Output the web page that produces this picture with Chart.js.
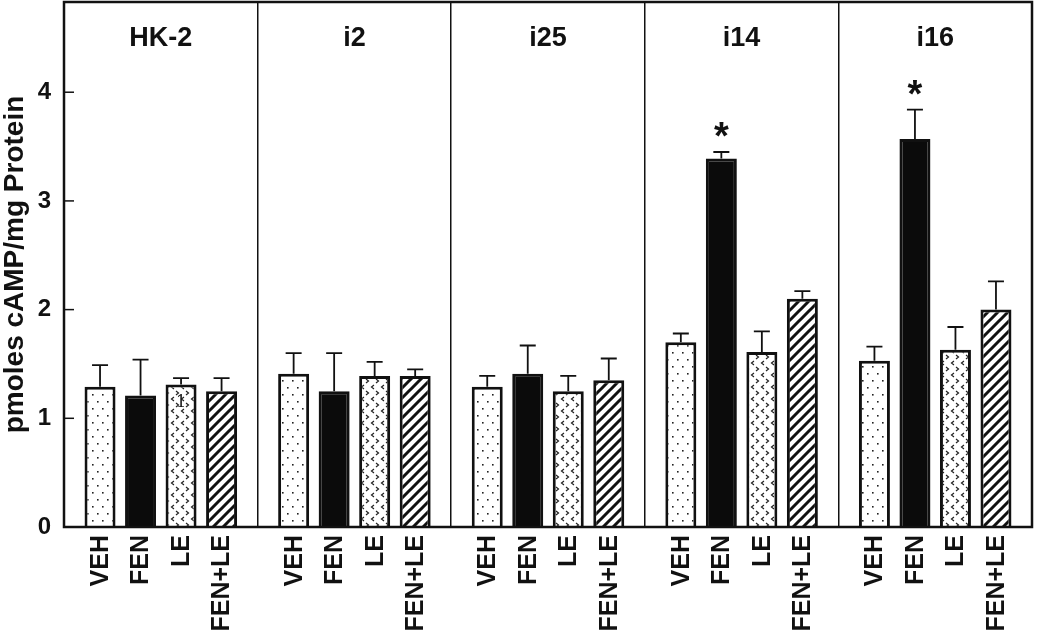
<!DOCTYPE html>
<html>
<head>
<meta charset="utf-8">
<script src="https://cdn.jsdelivr.net/npm/chart.js@4.4.0/dist/chart.umd.min.js"></script>
<style>
    body { margin: 0; background: #fff; }
    #chart { display: block; }
</style>
</head>
<body>
<canvas id="chart" width="1050" height="631"></canvas>
<script>
//-------------
//- DATA
//-------------
var cellLines = ["HK-2", "i2", "i25", "i14", "i16"];
var treatments = ["VEH", "FEN", "LE", "FEN+LE"];

var vehMean = [1.29, 1.41, 1.29, 1.70, 1.53];
var vehErr = [0.20, 0.19, 0.10, 0.08, 0.13];
var fenMean = [1.21, 1.25, 1.41, 3.39, 3.57];
var fenErr = [0.33, 0.35, 0.26, 0.06, 0.27];
var leMean = [1.31, 1.39, 1.25, 1.61, 1.63];
var leErr = [0.06, 0.13, 0.14, 0.19, 0.21];
var fenLeMean = [1.25, 1.39, 1.35, 2.10, 2.00];
var fenLeErr = [0.12, 0.06, 0.20, 0.07, 0.26];

// FEN significantly different from VEH
var fenStar = [false, false, false, true, true];

var yTicks = [0, 1, 2, 3, 4];
var yMax = 4.83;

var INK = "#111";
var FONT = "'Liberation Sans', Arial, sans-serif";

//-------------
//- FILL PATTERNS
//-------------
function makePattern(kind) {
    var c = document.createElement("canvas");
    if (kind == "dots") { c.width = 10; c.height = 14; }
    else if (kind == "chevrons") { c.width = 10; c.height = 12; }
    else { c.width = 10; c.height = 10; }
    var ctx = c.getContext("2d");
    ctx.fillStyle = "#fff";
    ctx.fillRect(0, 0, c.width, c.height);

    if (kind == "dots") {
        ctx.fillStyle = "#222";
        ctx.fillRect(2, 2, 1.6, 1.6);
        ctx.fillRect(7, 9, 1.6, 1.6);
    }
    else if (kind == "chevrons") {
        ctx.strokeStyle = "#222";
        ctx.lineWidth = 1.2;
        ctx.beginPath();
        ctx.moveTo(4, 1); ctx.lineTo(1.5, 3); ctx.lineTo(4, 5);
        ctx.moveTo(6, 7); ctx.lineTo(8.5, 9); ctx.lineTo(6, 11);
        ctx.stroke();
    }
    else {
        ctx.strokeStyle = INK;
        ctx.lineWidth = 3;
        ctx.beginPath();
        ctx.moveTo(-1, 11); ctx.lineTo(11, -1);
        ctx.moveTo(-6, 6); ctx.lineTo(6, -6);
        ctx.moveTo(4, 16); ctx.lineTo(16, 4);
        ctx.stroke();
    }
    return document.getElementById("chart").getContext("2d").createPattern(c, "repeat");
}

function barSet(label, data, err, fill) {
    return {
        label: label,
        data: data,
        errors: err,
        backgroundColor: fill,
        borderColor: INK,
        borderWidth: 3,
        categoryPercentage: 0.837,
        barPercentage: 0.765
    };
}

//-------------
//- PLUGINS
//-------------
var errorBars = {
    id: "errorBars",
    afterDatasetsDraw: function (chart) {
        var ctx = chart.ctx;
        var y = chart.scales.y;
        ctx.save();
        ctx.strokeStyle = INK;
        ctx.lineWidth = 1.8;
        chart.data.datasets.forEach(function (ds, i) {
            chart.getDatasetMeta(i).data.forEach(function (bar, j) {
                var top = y.getPixelForValue(ds.data[j] + ds.errors[j]);
                ctx.beginPath();
                ctx.moveTo(bar.x, bar.y);
                ctx.lineTo(bar.x, top);
                ctx.moveTo(bar.x - 8, top);
                ctx.lineTo(bar.x + 8, top);
                ctx.stroke();
            });
        });
        ctx.restore();
    }
};

var decorations = {
    id: "decorations",
    afterDraw: function (chart) {
        var ctx = chart.ctx;
        var area = chart.chartArea;
        var x = chart.scales.x;
        var y = chart.scales.y;
        ctx.save();

        // frame
        ctx.strokeStyle = INK;
        ctx.lineWidth = 2.5;
        ctx.strokeRect(area.left, area.top, area.right - area.left, area.bottom - area.top);

        // inward y ticks
        ctx.lineWidth = 1.5;
        yTicks.forEach(function (v) {
            var py = y.getPixelForValue(v);
            ctx.beginPath();
            ctx.moveTo(area.left, py);
            ctx.lineTo(area.left + 10, py);
            ctx.stroke();
        });

        // cell line titles
        ctx.fillStyle = INK;
        ctx.font = "bold 27px " + FONT;
        ctx.textAlign = "center";
        ctx.textBaseline = "middle";
        cellLines.forEach(function (name, j) {
            ctx.fillText(name, x.getPixelForValue(j), area.top + 37);
        });

        // treatment labels under each bar
        ctx.font = "bold 25px " + FONT;
        ctx.textAlign = "right";
        chart.data.datasets.forEach(function (ds, i) {
            chart.getDatasetMeta(i).data.forEach(function (bar) {
                ctx.save();
                ctx.translate(bar.x + 1, area.bottom + 8);
                ctx.rotate(-Math.PI / 2);
                ctx.fillText(ds.label, 0, 0);
                ctx.restore();
            });
        });

        // significance stars
        ctx.font = "bold 38px " + FONT;
        ctx.textAlign = "center";
        ctx.textBaseline = "alphabetic";
        var fenMeta = chart.getDatasetMeta(1);
        fenStar.forEach(function (on, j) {
            if (!on) return;
            var top = y.getPixelForValue(fenMean[j] + fenErr[j]);
            ctx.fillText("*", fenMeta.data[j].x, top - 3);
        });

        // small mark inside the HK-2 LE bar
        var leBar = chart.getDatasetMeta(2).data[0];
        ctx.font = "16px 'DejaVu Serif', serif";
        ctx.fillText("1", leBar.x, y.getPixelForValue(1.1));

        ctx.restore();
    }
};

//-------------
//- CHART
//-------------
var ctx = document.getElementById("chart").getContext("2d");
var chart = new Chart(ctx, {
    type: "bar",
    data: {
        labels: cellLines,
        datasets: [
            barSet(treatments[0], vehMean, vehErr, makePattern("dots")),
            barSet(treatments[1], fenMean, fenErr, "#0b0b0b"),
            barSet(treatments[2], leMean, leErr, makePattern("chevrons")),
            barSet(treatments[3], fenLeMean, fenLeErr, makePattern("hatch"))
        ]
    },
    options: {
        responsive: false,
        animation: false,
        events: [],
        layout: { padding: { left: 0, top: 2, right: 18, bottom: 104 } },
        plugins: {
            legend: { display: false },
            tooltip: { enabled: false }
        },
        scales: {
            x: {
                offset: true,
                grid: { offset: true, color: INK, lineWidth: 1.5, drawTicks: false },
                border: { display: false },
                ticks: { display: false }
            },
            y: {
                min: 0,
                max: yMax,
                afterFit: function (scale) {
                    scale.width = 64;
                    scale.paddingTop = 0;
                    scale.paddingBottom = 0;
                },
                grid: { display: false },
                border: { display: false },
                ticks: {
                    stepSize: 1,
                    includeBounds: false,
                    padding: 5,
                    color: INK,
                    font: { family: FONT, size: 24, weight: "bold" }
                },
                title: {
                    display: true,
                    text: "pmoles cAMP/mg Protein",
                    color: INK,
                    padding: { top: 0, bottom: 0 },
                    font: { family: FONT, size: 28, weight: "bold", lineHeight: 1.1 }
                }
            }
        }
    },
    plugins: [errorBars, decorations]
});
</script>
</body>
</html>
